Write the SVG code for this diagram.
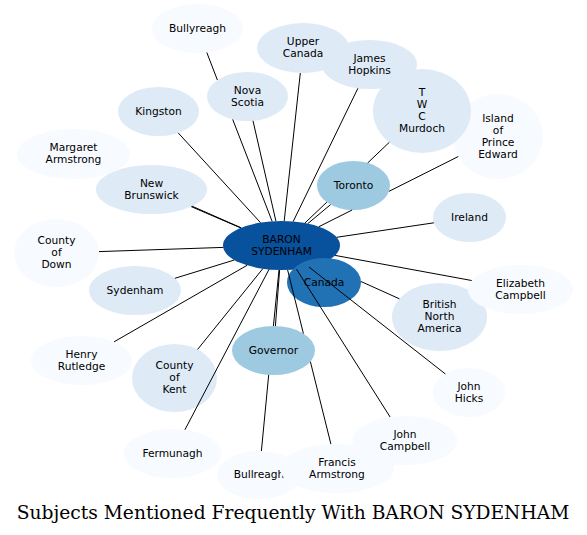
<svg xmlns="http://www.w3.org/2000/svg" width="587" height="535" viewBox="0 0 587 535">
<style>
text{font-family:"DejaVu Sans","Liberation Sans",sans-serif;font-size:10.67px;fill:#000;text-anchor:middle}
.t{font-family:"DejaVu Serif","Liberation Serif",serif;font-size:18.67px}
.c0{fill:#f7fbff}.c1{fill:#deebf7}.c2{fill:#9ecae1}.c3{fill:#2171b5}.c4{fill:#08519c}
#edges line{stroke:#000;stroke-width:1}
</style>
<rect width="587" height="535" fill="#fff"/>
<g id="nodes">
<g id="n-bullyreagh"><ellipse class="c0" cx="197.5" cy="28.5" rx="45.5" ry="24.5"/><text x="197.5" y="31.7">Bullyreagh</text></g>
<g id="n-upper-canada"><ellipse class="c1" cx="303" cy="48" rx="46" ry="25"/><text><tspan x="303" y="45.2">Upper</tspan><tspan x="303" y="57.2">Canada</tspan></text></g>
<g id="n-james-hopkins"><ellipse class="c1" cx="369.5" cy="64.5" rx="47.5" ry="24.5"/><text><tspan x="369.5" y="61.7">James</tspan><tspan x="369.5" y="73.7">Hopkins</tspan></text></g>
<g id="n-island"><ellipse class="c0" cx="498" cy="136.5" rx="45" ry="42.5"/><text><tspan x="498" y="121.7">Island</tspan><tspan x="498" y="133.7">of</tspan><tspan x="498" y="145.7">Prince</tspan><tspan x="498" y="157.7">Edward</tspan></text></g>
<g id="n-murdoch"><ellipse class="c1" cx="422" cy="111" rx="49" ry="42"/><text><tspan x="422" y="96.2">T</tspan><tspan x="422" y="108.2">W</tspan><tspan x="422" y="120.2">C</tspan><tspan x="422" y="132.2">Murdoch</tspan></text></g>
<g id="n-nova-scotia"><ellipse class="c1" cx="247.5" cy="96.5" rx="40.5" ry="24.5"/><text><tspan x="247.5" y="93.7">Nova</tspan><tspan x="247.5" y="105.7">Scotia</tspan></text></g>
<g id="n-kingston"><ellipse class="c1" cx="158.5" cy="111.5" rx="40.5" ry="24.5"/><text x="158.5" y="114.7">Kingston</text></g>
<g id="n-margaret"><ellipse class="c0" cx="73.5" cy="154" rx="56.5" ry="25"/><text><tspan x="73.5" y="151.2">Margaret</tspan><tspan x="73.5" y="163.2">Armstrong</tspan></text></g>
<g id="n-new-brunswick"><ellipse class="c1" cx="151.5" cy="189.5" rx="55.5" ry="24.5"/><text><tspan x="151.5" y="186.7">New</tspan><tspan x="151.5" y="198.7">Brunswick</tspan></text></g>
<g id="n-toronto"><ellipse class="c2" cx="353.5" cy="185.5" rx="36.5" ry="24.5"/><text x="353.5" y="188.7">Toronto</text></g>
<g id="n-ireland"><ellipse class="c1" cx="469.5" cy="217.5" rx="36.5" ry="24.5"/><text x="469.5" y="220.7">Ireland</text></g>
<g id="n-down"><ellipse class="c0" cx="56.5" cy="253" rx="42.5" ry="34"/><text><tspan x="56.5" y="244.2">County</tspan><tspan x="56.5" y="256.2">of</tspan><tspan x="56.5" y="268.2">Down</tspan></text></g>
<g id="n-sydenham"><ellipse class="c1" cx="135" cy="290.5" rx="46" ry="24.5"/><text x="135" y="293.7">Sydenham</text></g>
<g id="n-bna"><ellipse class="c1" cx="439.5" cy="317" rx="47.5" ry="34"/><text><tspan x="439.5" y="308.2">British</tspan><tspan x="439.5" y="320.2">North</tspan><tspan x="439.5" y="332.2">America</tspan></text></g>
<g id="n-elizabeth"><ellipse class="c0" cx="520.5" cy="289.5" rx="52.5" ry="24.5"/><text><tspan x="520.5" y="286.7">Elizabeth</tspan><tspan x="520.5" y="298.7">Campbell</tspan></text></g>
<g id="n-henry"><ellipse class="c0" cx="81.5" cy="360.5" rx="50.5" ry="24.5"/><text><tspan x="81.5" y="357.7">Henry</tspan><tspan x="81.5" y="369.7">Rutledge</tspan></text></g>
<g id="n-kent"><ellipse class="c1" cx="174.5" cy="378" rx="42.5" ry="34"/><text><tspan x="174.5" y="369.2">County</tspan><tspan x="174.5" y="381.2">of</tspan><tspan x="174.5" y="393.2">Kent</tspan></text></g>
<g id="n-governor"><ellipse class="c2" cx="273.5" cy="350.5" rx="41.5" ry="24.5"/><text x="273.5" y="353.7">Governor</text></g>
<g id="n-john-hicks"><ellipse class="c0" cx="469" cy="392.5" rx="36" ry="24.5"/><text><tspan x="469" y="389.7">John</tspan><tspan x="469" y="401.7">Hicks</tspan></text></g>
<g id="n-john-campbell"><ellipse class="c0" cx="405" cy="440.5" rx="52" ry="24.5"/><text><tspan x="405" y="437.7">John</tspan><tspan x="405" y="449.7">Campbell</tspan></text></g>
<g id="n-fermunagh"><ellipse class="c0" cx="172.5" cy="453.5" rx="48.5" ry="24.5"/><text x="172.5" y="456.7">Fermunagh</text></g>
<g id="n-bullreagh"><ellipse class="c0" cx="259" cy="475" rx="42" ry="24"/><text x="259" y="478.2">Bullreagh</text></g>
<g id="n-francis"><ellipse class="c0" cx="337" cy="468.5" rx="57" ry="24.5"/><text><tspan x="337" y="465.7">Francis</tspan><tspan x="337" y="477.7">Armstrong</tspan></text></g>
<g id="n-baron"><ellipse class="c4" cx="281.5" cy="245.5" rx="58.5" ry="24.5"/><text><tspan x="281.5" y="242.7">BARON</tspan><tspan x="281.5" y="254.7">SYDENHAM</tspan></text></g>
<g id="n-canada"><ellipse class="c3" cx="324" cy="282.5" rx="37" ry="24.5"/><text x="324" y="285.7">Canada</text></g>
</g>
<g id="edges">
<line x1="272.1" y1="221.3" x2="232.7" y2="119.4"/><line x1="217.4" y1="80" x2="206.8" y2="52.5"/>
<line x1="284.2" y1="221" x2="300.3" y2="73"/>
<line x1="293.2" y1="221.5" x2="357.9" y2="88.3"/>
<line x1="304.9" y1="223" x2="326.8" y2="202.2"/><line x1="367.7" y1="162.9" x2="389.3" y2="142.3"/>
<line x1="318.9" y1="226.7" x2="352.1" y2="210"/><line x1="388.9" y1="191.4" x2="458.3" y2="156.5"/>
<line x1="275.9" y1="221.1" x2="253" y2="120.8"/>
<line x1="260.5" y1="222.6" x2="178.2" y2="132.9"/>
<line x1="241.2" y1="227.8" x2="192.1" y2="206.2"/>
<line x1="240.7" y1="227.9" x2="191.2" y2="206.6"/>
<line x1="307.8" y1="223.6" x2="330.6" y2="204.6"/>
<line x1="336.6" y1="237.3" x2="433.9" y2="222.8"/>
<line x1="223.2" y1="247.4" x2="99" y2="251.6"/>
<line x1="234.3" y1="260" x2="174.9" y2="278.3"/>
<line x1="335.1" y1="255.4" x2="471.7" y2="280.5"/>
<line x1="361" y1="281.5" x2="399.4" y2="298.8"/>
<line x1="247.1" y1="265.3" x2="114.1" y2="341.8"/>
<line x1="262.8" y1="268.7" x2="197.6" y2="349.4"/>
<line x1="279.6" y1="270" x2="275.4" y2="326"/>
<line x1="309.1" y1="267.1" x2="445.4" y2="374"/>
<line x1="296.5" y1="269.2" x2="390.1" y2="417"/>
<line x1="269" y1="269.4" x2="184.9" y2="429.8"/>
<line x1="279" y1="270" x2="273.4" y2="326"/><line x1="268.7" y1="374.8" x2="261.4" y2="451"/>
<line x1="287.6" y1="269.9" x2="303.4" y2="333.5"/><line x1="310.4" y1="361.7" x2="330.9" y2="444.1"/>
</g>
<text class="t" x="293" y="519">Subjects Mentioned Frequently With BARON SYDENHAM</text>
</svg>
